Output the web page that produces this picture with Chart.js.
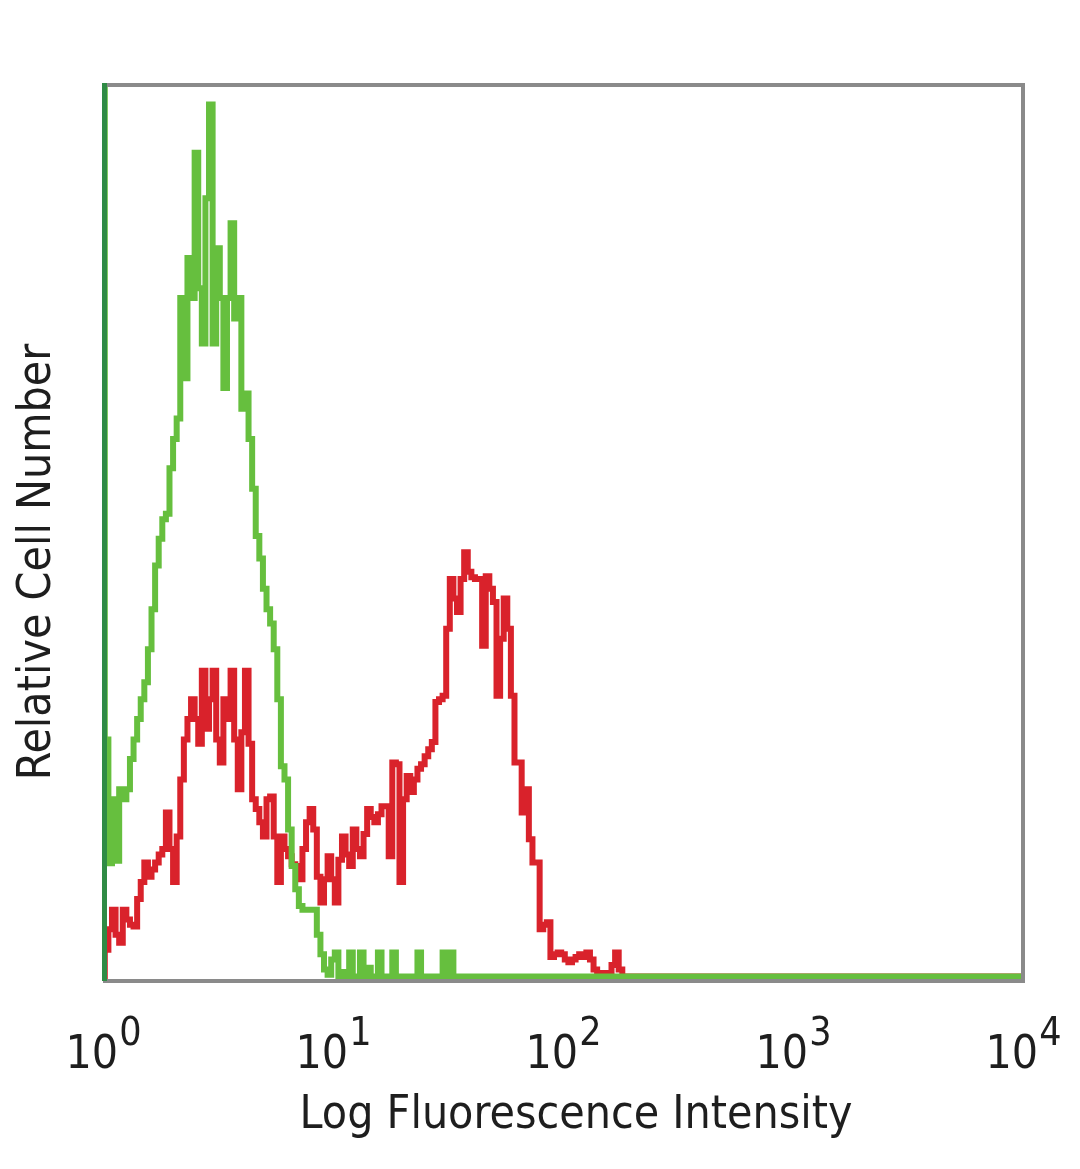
<!DOCTYPE html>
<html><head><meta charset="utf-8">
<script src="https://cdn.jsdelivr.net/npm/chart.js@4/dist/chart.umd.min.js"></script>
<style>html,body{margin:0;padding:0;background:#fff}#wrap{width:1080px;height:1169px}</style>
</head><body><div id="wrap"><canvas id="c" width="1080" height="1169"></canvas></div>
<script>
// 256 channels over 4 decades (64 channels per decade), channel 0 = 10^0
const channelsPerDecade = 64;
const tickValues = [1, 10, 100, 1000, 10000];
const tickBase = '10';
const tickExponents = ['0', '1', '2', '3', '4'];
const xTitle = 'Log Fluorescence Intensity';
const yTitle = 'Relative Cell Number';

// green histogram (relative count per channel)
const greenCounts = [
  115, 26.6, 12.7, 19.9, 13.0, 21.0, 19.9, 21.0, 24.4, 26.6,
  28.9, 31.1, 33.0, 36.7, 41.2, 46.1, 49.1, 51.3, 51.9, 57.0,
  60.3, 62.6, 76.1, 67.1, 80.6, 76.1, 92.4, 77.2, 71.0, 87.3,
  97.8, 71.0, 81.7, 76.1, 66.0, 76.1, 84.5, 73.8, 76.1, 63.7,
  65.4, 60.3, 54.7, 49.4, 46.9, 43.5, 41.2, 39.6, 36.7, 31.1,
  23.6, 22.1, 16.5, 12.4, 9.8, 7.9, 7.5, 7.5, 7.5, 7.5,
  4.7, 2.5, 0.8, 0.2, 1.9, 2.7, 0, 0.5, 0, 2.7,
  0, 0, 2.7, 0, 1.0, 0, 0, 2.7, 0, 0,
  0, 2.7, 0, 0, 0, 0, 0, 0, 2.7, 0,
  0, 0, 0, 0, 0, 2.7, 0, 2.7, 0, 0,
  0, 0, 0, 0, 0, 0, 0, 0, 0, 0,
  0, 0, 0, 0, 0, 0, 0, 0, 0, 0,
  0, 0, 0, 0, 0, 0, 0, 0, 0, 0,
  0, 0, 0, 0, 0, 0, 0, 0, 0, 0,
  0, 0, 0, 0, 0, 0, 0, 0, 0, 0,
  0, 0, 0, 0, 0, 0, 0, 0, 0, 0,
  0, 0, 0, 0, 0, 0, 0, 0, 0, 0,
  0, 0, 0, 0, 0, 0, 0, 0, 0, 0,
  0, 0, 0, 0, 0, 0, 0, 0, 0, 0,
  0, 0, 0, 0, 0, 0, 0, 0, 0, 0,
  0, 0, 0, 0, 0, 0, 0, 0, 0, 0,
  0, 0, 0, 0, 0, 0, 0, 0, 0, 0,
  0, 0, 0, 0, 0, 0, 0, 0, 0, 0,
  0, 0, 0, 0, 0, 0, 0, 0, 0, 0,
  0, 0, 0, 0, 0, 0, 0, 0, 0, 0,
  0, 0, 0, 0, 0, 0, 0
];

// red histogram (relative count per channel)
const redCounts = [
  0, 3.0, 5.3, 7.5, 4.7, 3.8, 7.5, 6.4, 5.8, 5.6,
  8.7, 10.6, 12.8, 11.2, 12.0, 12.8, 13.7, 14.3, 18.4, 14.3,
  10.6, 15.7, 22.1, 26.6, 28.9, 31.1, 28.9, 26.1, 34.3, 27.8,
  31.1, 34.3, 26.6, 24.0, 31.1, 28.9, 34.3, 26.6, 21.0, 27.4,
  34.3, 26.1, 19.9, 18.8, 17.3, 15.7, 19.9, 20.2, 15.7, 10.6,
  15.7, 14.3, 13.5, 12.6, 12.4, 10.9, 14.3, 17.3, 18.8, 16.5,
  11.2, 8.3, 10.9, 13.5, 10.9, 8.3, 13.1, 15.7, 13.7, 12.4,
  16.5, 14.3, 13.5, 16.0, 18.8, 17.9, 17.3, 18.2, 19.1, 19.1,
  13.5, 24.0, 23.8, 10.6, 19.9, 22.5, 20.7, 22.1, 23.3, 23.8,
  24.7, 25.5, 26.3, 30.8, 31.1, 31.5, 39.0, 44.6, 42.4, 40.9,
  44.6, 47.6, 45.4, 44.8, 44.6, 44.6, 37.1, 44.9, 43.5, 42.0,
  31.5, 37.9, 42.4, 39.0, 31.5, 24.0, 24.0, 18.4, 21.0, 15.4,
  12.8, 12.8, 5.3, 5.8, 6.1, 2.2, 2.5, 2.7, 2.5, 1.9,
  1.6, 1.9, 2.2, 2.5, 2.2, 2.7, 1.9, 0.8, 0.4, 0.2,
  0.4, 0, 1.3, 2.7, 0.8, 0, 0, 0, 0, 0,
  0, 0, 0, 0, 0, 0, 0, 0, 0, 0,
  0, 0, 0, 0, 0, 0, 0, 0, 0, 0,
  0, 0, 0, 0, 0, 0, 0, 0, 0, 0,
  0, 0, 0, 0, 0, 0, 0, 0, 0, 0,
  0, 0, 0, 0, 0, 0, 0, 0, 0, 0,
  0, 0, 0, 0, 0, 0, 0, 0, 0, 0,
  0, 0, 0, 0, 0, 0, 0, 0, 0, 0,
  0, 0, 0, 0, 0, 0, 0, 0, 0, 0,
  0, 0, 0, 0, 0, 0, 0, 0, 0, 0,
  0, 0, 0, 0, 0, 0, 0, 0, 0, 0,
  0, 0, 0, 0, 0, 0, 0
];

const toPoints = arr => arr.map((v, ch) => ({ x: Math.pow(10, ch / channelsPerDecade), y: v }));

const FONT = "'DejaVu Sans Condensed', 'DejaVu Sans', sans-serif";
const TEXT_COLOR = '#1e1e1e';

const framePlugin = {
  id: 'frame',
  afterDatasetsDraw(chart) {
    const { ctx, chartArea: a } = chart;
    ctx.save();
    ctx.lineWidth = 4;
    ctx.strokeStyle = '#8a8a8a';
    ctx.beginPath();
    ctx.moveTo(a.left, a.top);
    ctx.lineTo(a.right, a.top);
    ctx.lineTo(a.right, a.bottom);
    ctx.lineTo(a.left, a.bottom);
    ctx.stroke();
    ctx.strokeStyle = '#2f8b45';
    ctx.lineWidth = 5;
    ctx.beginPath();
    ctx.moveTo(a.left + 1.5, a.top - 2);
    ctx.lineTo(a.left + 1.5, a.bottom);
    ctx.stroke();
    ctx.restore();
  },
  afterDraw(chart) {
    const { ctx, chartArea: a, scales } = chart;
    const xs = scales.x;
    ctx.save();
    ctx.fillStyle = TEXT_COLOR;
    ctx.textBaseline = 'alphabetic';
    // tick labels: 10 with raised exponent
    tickValues.forEach((v, i) => {
      const px = xs.getPixelForValue(v);
      ctx.font = `46px ${FONT}`;
      const w1 = ctx.measureText(tickBase).width;
      ctx.font = `39px ${FONT}`;
      const w2 = ctx.measureText(tickExponents[i]).width;
      const start = px - (w1 + w2) / 2;
      ctx.textAlign = 'left';
      ctx.font = `46px ${FONT}`;
      ctx.fillText(tickBase, start, a.bottom + 87);
      ctx.font = `39px ${FONT}`;
      ctx.fillText(tickExponents[i], start + w1 + 1, a.bottom + 64);
    });
    // axis titles
    ctx.font = `46px ${FONT}`;
    ctx.textAlign = 'center';
    ctx.fillText(xTitle, (a.left + a.right) / 2 + 13, a.bottom + 147);
    ctx.translate(50, (a.top + a.bottom) / 2 + 29);
    ctx.rotate(-Math.PI / 2);
    ctx.fillText(yTitle, 0, 0);
    ctx.restore();
  }
};

new Chart(document.getElementById('c'), {
  type: 'line',
  data: {
    datasets: [
      { label: 'green', data: toPoints(greenCounts), borderColor: '#66bf3e', borderWidth: 6,
        pointRadius: 0, stepped: 'middle', fill: false },
      { label: 'red', data: toPoints(redCounts), borderColor: '#d9222b', borderWidth: 6,
        pointRadius: 0, stepped: 'middle', fill: false }
    ]
  },
  options: {
    responsive: false,
    devicePixelRatio: 1,
    animation: false,
    layout: { padding: { left: 0, right: 57, top: 85, bottom: 0 } },
    plugins: { legend: { display: false }, tooltip: { enabled: false } },
    scales: {
      x: {
        type: 'logarithmic', min: 1, max: 10000,
        afterBuildTicks: s => { s.ticks = tickValues.map(v => ({ value: v, major: true })); },
        afterFit: s => { s.height = 188; s.paddingLeft = 0; s.paddingRight = 0; },
        grid: { display: false, drawTicks: false },
        border: { display: false },
        ticks: { display: false },
        title: { display: false, text: xTitle }
      },
      y: {
        min: -0.5, max: 100,
        afterFit: s => { s.width = 103; s.paddingTop = 0; s.paddingBottom = 0; },
        grid: { display: false, drawTicks: false },
        border: { display: false },
        ticks: { display: false },
        title: { display: false, text: yTitle }
      }
    }
  },
  plugins: [framePlugin]
});
</script>
</body></html>
